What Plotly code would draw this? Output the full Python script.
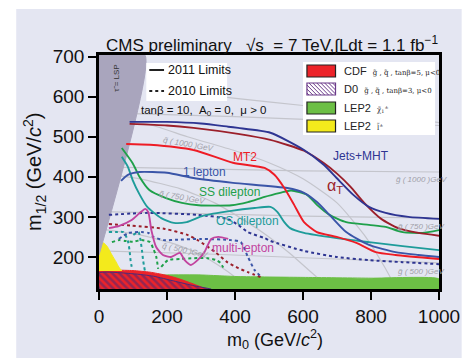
import plotly.graph_objects as go

# ---------------- data (m0, m1/2 in GeV/c^2) ----------------
# 2011 limits (solid)
jets_x = [90, 200, 300, 380, 409, 504, 603, 661, 699, 748, 794, 843, 910, 1000]
jets_y = [537, 537, 533, 525, 522, 510, 467, 430, 397, 355, 325, 310, 300, 295]
alphat_x = [90, 200, 278, 409, 504, 603, 660, 700, 740, 780, 830, 880, 940, 1000]
alphat_y = [532, 528, 522, 507, 492, 465, 435, 408, 375, 335, 295, 272, 260, 253]
mt2_x = [80, 150, 278, 394, 487, 516, 545, 574, 603, 641, 699, 757, 814, 872, 1000]
mt2_y = [482, 480, 467, 435, 422, 405, 372, 330, 287, 262, 250, 235, 212, 205, 195]
lep1_x = [65, 85, 119, 200, 278, 394, 554, 603, 641, 678, 727, 794, 872, 939, 1000]
lep1_y = [390, 405, 412, 410, 397, 385, 372, 360, 337, 305, 262, 230, 212, 205, 200]
ss_x = [67, 99, 119, 148, 197, 244, 293, 390, 438, 487, 533, 565, 612, 641, 678, 727, 794, 843, 893, 951, 1000]
ss_y = [472, 434, 400, 367, 347, 335, 329, 329, 337, 350, 360, 366, 355, 330, 305, 287, 280, 275, 262, 260, 267]
os_x = [67, 85, 99, 120, 142, 162, 183, 220, 258, 307, 389, 458, 504, 525, 545, 562, 603, 699, 794, 893, 1000]
os_y = [450, 425, 392, 355, 325, 310, 297, 285, 287, 303, 315, 322, 325, 312, 287, 272, 260, 247, 237, 227, 217]
multi_x = [29, 58, 96, 120, 136, 145, 154, 168, 188, 212, 238, 252, 270, 290, 310, 330, 351, 380]
multi_y = [272, 277, 292, 310, 320, 312, 267, 225, 205, 200, 210, 192, 180, 192, 212, 245, 250, 245]

# 2010 limits (dotted)
jets10_x = [29, 145, 290, 377, 409, 438, 487, 504, 603, 699, 794, 893, 1000]
jets10_y = [305, 310, 305, 295, 280, 262, 247, 240, 215, 200, 192, 187, 182]
lep10_x = [58, 87, 125, 145, 160, 190, 232, 300, 388, 417, 438, 458, 478]
lep10_y = [245, 260, 262, 260, 250, 242, 243, 245, 242, 237, 200, 167, 150]
at10_x = [29, 96, 194, 260, 290, 342, 377, 410, 438, 475]
at10_y = [282, 278, 270, 255, 242, 212, 187, 172, 162, 150]
tealA_x = [29, 50, 72, 85, 90, 93, 98]
tealA_y = [262, 262, 262, 240, 215, 190, 168]
tealB_x = [101, 116, 125, 130, 135]
tealB_y = [255, 262, 225, 190, 165]
greenA_x = [38, 60, 78, 100, 125, 150, 160, 168, 174]
greenA_y = [237, 242, 240, 238, 242, 237, 220, 202, 170]
greenB_x = [183, 203, 241, 280, 319, 345, 357, 368]
greenB_y = [175, 192, 195, 197, 197, 192, 185, 170]

# excluded regions
lsp_x = [0, 135, 0]
lsp_y = [704, 704, 205]
yel_x = [0, 0, 5, 14, 25, 38, 50, 58, 67]
yel_y = [165, 218, 230, 235, 225, 205, 188, 175, 165]
cdf_x = [0, 0, 50, 100, 150, 194, 230, 270, 310, 320]
cdf_y = [120, 166, 167, 166, 162, 155, 147, 135, 122, 120]
d0_x = [0, 0, 100, 160, 220, 280, 330]
d0_y = [120, 160, 158, 152, 140, 128, 120]
lepc_x = [110, 110, 200, 300, 409, 600, 800, 1000, 1000]
lepc_y = [120, 150, 155, 155, 151, 149, 147, 145, 120]

# iso-mass contours
gl500_x = [0, 300, 600, 1000];  gl500_y = [215, 208, 198, 185]
gl750_x = [0, 300, 600, 1000];  gl750_y = [313, 308, 302, 297]
gl1000_x = [0, 300, 600, 1000]; gl1000_y = [425, 420, 415, 412]
gl1250_x = [0, 400, 700, 1000]; gl1250_y = [560, 550, 540, 528]
sq500_x = [0, 120, 230, 300, 350, 400, 440]
sq500_y = [270, 255, 230, 205, 180, 150, 120]
sq750_x = [0, 120, 240, 340, 430, 500, 560, 620, 680]
sq750_y = [410, 395, 370, 335, 290, 250, 210, 165, 120]
sq1000_x = [0, 150, 260, 400, 500, 600, 700, 780, 840, 875]
sq1000_y = [545, 530, 500, 465, 435, 395, 335, 255, 175, 120]
sq1250_x = [250, 409, 600, 800, 1000]
sq1250_y = [610, 595, 578, 560, 535]

x_ticks = [0, 200, 400, 600, 800, 1000]
y_ticks = [200, 300, 400, 500, 600, 700]

# ---------------- styling ----------------
BG = "#e4e6f2"
SANS = "Liberation Sans, Arial, sans-serif"
C_JETS = "#2e3592"
C_AT = "#9b1f2a"
C_MT2 = "#ee1c25"
C_LEP = "#3a55a8"
C_SS = "#1fa04a"
C_OS = "#1e9c9a"
C_MULTI = "#c2449f"
C_GREY = "#c4c5cc"

L, R, T, B = 99, 444, 55, 289
def px(x):
    return (x - L) / (R - L)
def py(y):
    return (B - y) / (B - T)

fig = go.Figure()

def line(x, y, color, width=1.9, dash="solid"):
    fig.add_trace(go.Scatter(x=x, y=y, mode="lines", hoverinfo="skip",
                             line=dict(color=color, width=width, dash=dash, shape="spline", smoothing=0.6)))

def region(x, y, color, lc=None, pattern=None):
    kw = {}
    if pattern:
        kw["fillpattern"] = pattern
    fig.add_trace(go.Scatter(x=x, y=y, mode="lines", fill="toself", fillcolor=color, hoverinfo="skip",
                             line=dict(color=lc or color, width=1, shape="spline", smoothing=0.5), **kw))

for gx, gy in [(gl500_x, gl500_y), (gl750_x, gl750_y), (gl1000_x, gl1000_y), (gl1250_x, gl1250_y),
               (sq500_x, sq500_y), (sq750_x, sq750_y), (sq1000_x, sq1000_y), (sq1250_x, sq1250_y)]:
    line(gx, gy, C_GREY, 1.2)

region(lepc_x, lepc_y, "#6cbf45")
region(cdf_x, cdf_y, "#ec2329")
region(d0_x, d0_y, "rgba(0,0,0,0)", lc="#4a2a7a",
       pattern=dict(shape="\\", fgcolor="#3d2a7c", bgcolor="rgba(0,0,0,0)", size=5, solidity=0.5))
region(yel_x, yel_y, "#f3ea1c")
region(lsp_x, lsp_y, "#a9a5bd")

# 2010 dotted
line(tealA_x, tealA_y, C_OS, 2, "dot")
line(tealB_x, tealB_y, C_OS, 2, "dot")
line(greenA_x, greenA_y, C_SS, 2, "dot")
line(greenB_x, greenB_y, C_SS, 2, "dot")
line(at10_x, at10_y, C_AT, 2, "dot")
line(lep10_x, lep10_y, C_LEP, 2, "dot")
line(jets10_x, jets10_y, C_JETS, 2, "dot")

# 2011 solid
line(multi_x, multi_y, C_MULTI)
line(os_x, os_y, C_OS)
line(ss_x, ss_y, C_SS)
line(lep1_x, lep1_y, C_LEP)
line(mt2_x, mt2_y, C_MT2)
line(alphat_x, alphat_y, C_AT)
line(jets_x, jets_y, C_JETS)

shapes = []
ann = []

# outer lavender panel
shapes.append(dict(type="rect", xref="paper", yref="paper", x0=px(15), x1=px(467), y0=py(358), y1=py(9),
                   fillcolor=BG, line=dict(width=0), layer="below"))

# left legend box
shapes.append(dict(type="rect", xref="paper", yref="paper", x0=px(147), x1=px(229), y0=py(101), y1=py(63),
                   fillcolor="white", line=dict(width=0)))
shapes.append(dict(type="line", xref="paper", yref="paper", x0=px(150), x1=px(165), y0=py(70), y1=py(70),
                   line=dict(color="#222", width=2)))
shapes.append(dict(type="line", xref="paper", yref="paper", x0=px(150), x1=px(165), y0=py(91), y1=py(91),
                   line=dict(color="#222", width=2, dash="dot")))
ann.append(dict(x=px(167), y=py(70), text="2011 Limits", xanchor="left", font=dict(size=12.5, color="#111", family=SANS)))
ann.append(dict(x=px(167), y=py(91), text="2010 Limits", xanchor="left", font=dict(size=12.5, color="#111", family=SANS)))

# right legend box
shapes.append(dict(type="rect", xref="paper", yref="paper", x0=px(306), x1=px(440), y0=py(135), y1=py(62),
                   fillcolor="white", line=dict(width=0)))
sw = [(65, "#ec2329", "#222"), (83, "white", "#6b3a8a"), (102, "#6cbf45", "#222"), (120, "#f3ea1c", "#222")]
for top, fc, lc in sw:
    shapes.append(dict(type="rect", xref="paper", yref="paper", x0=px(310), x1=px(339), y0=py(top + 12), y1=py(top),
                       fillcolor=fc, line=dict(color=lc, width=1.2)))
# hatch in D0 swatch
for k in range(-10, 30, 4):
    x0, x1 = 310 + k, 310 + k + 12
    y0, y1 = 83, 95
    if x0 < 310:
        y0 = 83 + (310 - x0); x0 = 310
    if x1 > 339:
        y1 = 95 - (x1 - 339); x1 = 339
    if y1 > y0:
        shapes.append(dict(type="line", xref="paper", yref="paper", x0=px(x0), x1=px(x1), y0=py(y0), y1=py(y1),
                           line=dict(color="#6b3a8a", width=1)))
small = "<span style='font-family:DejaVu Serif;font-size:7px'>%s</span>"
LEGF = dict(size=11, color="#222", family=SANS)
ann.append(dict(x=px(346), y=py(71), text="CDF  " + small % "g̃ , q̃ , tanβ=5, μ&lt;0", xanchor="left", font=LEGF))
ann.append(dict(x=px(346), y=py(89), text="D0  " + small % "g̃ , q̃ , tanβ=3, μ&lt;0", xanchor="left", font=LEGF))
ann.append(dict(x=px(346), y=py(108), text="LEP2  " + small % "χ̃<sub>1</sub><sup>±</sup>", xanchor="left", font=LEGF))
ann.append(dict(x=px(346), y=py(126), text="LEP2  " + small % "l̃<sup>±</sup>", xanchor="left", font=LEGF))

# in-plot texts
ann.append(dict(x=px(140), y=py(111), text="tanβ = 10,  A<sub>0</sub> = 0,  μ > 0", xanchor="left",
                font=dict(size=11.5, color="#111", family=SANS)))
ann.append(dict(x=px(116), y=py(78), text="τ̃ = LSP", textangle=-90, font=dict(size=8, color="#333", family=SANS)))
labels = [("MT2", 247, 157, C_MT2), ("1 lepton", 206, 172, C_LEP), ("SS dilepton", 231, 192, C_SS),
          ("OS dilepton", 250, 221, C_OS), ("multi-lepton", 245, 248, C_MULTI),
          ("Jets+MHT", 365, 156, C_JETS), ("α<sub>T</sub>", 338, 186, C_AT)]
for t, x, y, c in labels:
    ann.append(dict(x=px(x), y=py(y), text=t, font=dict(size=12 if "α" not in t else 16, color=c, family=SANS)))

gfont = dict(size=8, color="#a0a0a8", family=SANS)
for t, x, y, a in [("<i>q̃ ( 1000 )GeV</i>", 190, 144, 10), ("<i>q̃ ( 750 )GeV</i>", 183, 197, 10),
                   ("<i>q̃ ( 500 )GeV</i>", 186, 250, 12), ("<i>g̃ ( 1000 )GeV</i>", 426, 179, 0),
                   ("<i>g̃ ( 750 )GeV</i>", 426, 226, 0), ("<i>g̃ ( 500 )GeV</i>", 426, 271, 0)]:
    ann.append(dict(x=px(x), y=py(y), text=t, textangle=a, font=gfont))

# title and axis titles
ann.append(dict(x=px(170), y=py(46), text="CMS preliminary", font=dict(size=17, color="#111", family=SANS)))
ann.append(dict(x=px(346), y=py(44), text="√s  = 7 TeV,∫Ldt = 1.1 fb<sup>−1</sup>",
                font=dict(size=17, color="#111", family=SANS)))
ann.append(dict(x=px(33), y=py(172), text="m<sub>1/2</sub> (GeV/<i>c</i><sup>2</sup>)", textangle=-90,
                font=dict(size=20, color="#111", family=SANS)))
ann.append(dict(x=px(278), y=py(339), text="m<sub>0</sub> (GeV/<i>c</i><sup>2</sup>)",
                font=dict(size=18, color="#111", family=SANS)))

for a in ann:
    a.setdefault("xref", "paper")
    a.setdefault("yref", "paper")
    a.setdefault("showarrow", False)
    a.setdefault("font", dict(size=12, color="#111", family=SANS))
    a.setdefault("xanchor", "center")
    a.setdefault("yanchor", "middle")

axis_common = dict(showgrid=False, zeroline=False, showline=True, linecolor="black", linewidth=2.5, mirror=True,
                   ticks="outside", ticklen=8, tickwidth=1.5, tickcolor="black",
                   tickfont=dict(size=19, color="#111", family=SANS))
fig.update_layout(
    width=472, height=358, margin=dict(l=L, r=472 - R, t=T, b=358 - B),
    paper_bgcolor="white", plot_bgcolor=BG, showlegend=False,
    xaxis=dict(range=[0, 1000], tickvals=x_ticks, **axis_common),
    yaxis=dict(range=[120, 704], tickvals=y_ticks, **axis_common),
    shapes=shapes, annotations=ann,
)
fig.write_html("out.html")
